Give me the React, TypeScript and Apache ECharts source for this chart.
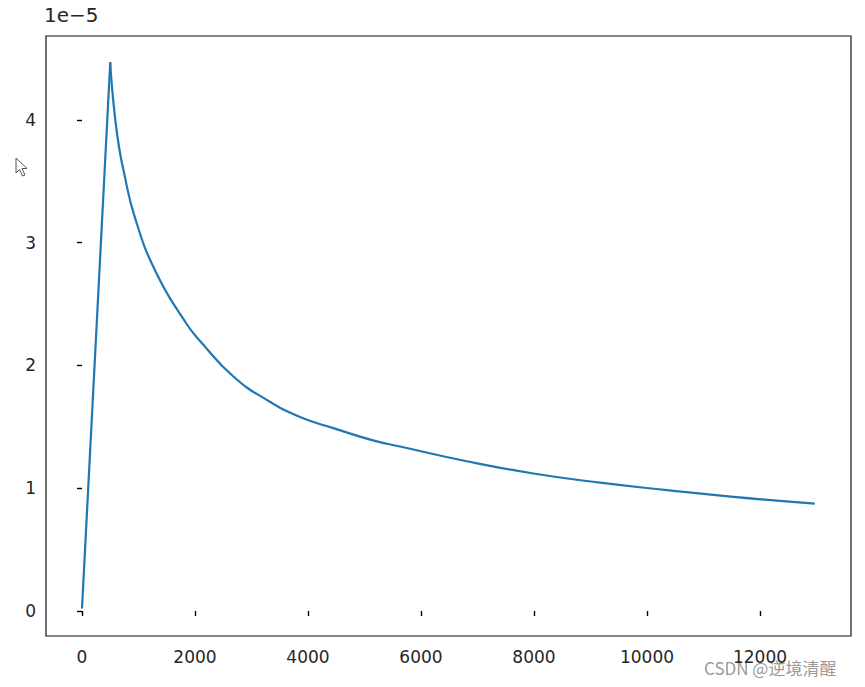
import React, { useEffect, useRef } from "react";
import * as echarts from "echarts";

// Training steps (x) and learning rate in units of 1e-5 (y)
const steps = [0, 500, 525, 585, 655, 730, 940, 1320, 1850, 2090, 2680, 3270, 3860, 4450, 5150, 5630, 6810, 7990, 9170, 10350, 11530, 12970];
const lrScaled = [0.02, 4.47, 4.3, 4.02, 3.78, 3.6, 3.2, 2.75, 2.34, 2.2, 1.91, 1.72, 1.58, 1.49, 1.39, 1.34, 1.22, 1.12, 1.045, 0.985, 0.93, 0.875];
const exponent = -5;
const xTicks = [0, 2000, 4000, 6000, 8000, 10000, 12000];
const yTicks = [0, 1, 2, 3, 4];

const SCALE = Math.pow(10, exponent);
const FONT = "DejaVu Sans";
const TEXT = "#262626";

export default function App() {
  const ref = useRef<HTMLDivElement>(null);
  useEffect(() => {
    if (!ref.current) return;
    const chart = echarts.init(ref.current, null, { renderer: "svg" });
    const points = steps.map((s, i) => [s, lrScaled[i] * SCALE]);
    const warm = points.slice(0, 2);
    const decay = points.slice(1);
    const lineStyle = { color: "#1f77b4", width: 2.2 };
    chart.setOption({
      animation: false,
      backgroundColor: "#ffffff",
      grid: {
        left: 46,
        right: 14,
        top: 36,
        bottom: 51,
        show: true,
        borderColor: "#111",
        borderWidth: 1.2,
        backgroundColor: "transparent",
      },
      xAxis: {
        type: "value",
        min: -637,
        max: 13611,
        splitLine: { show: false },
        axisLine: { show: false },
        axisTick: {
          show: true,
          inside: false,
          length: 5,
          customValues: xTicks,
          lineStyle: { color: "#000", width: 1.4 },
        },
        axisLabel: {
          customValues: xTicks,
          margin: 12,
          fontFamily: FONT,
          fontSize: 17,
          color: TEXT,
          formatter: (v: number) => String(v),
        },
      },
      yAxis: {
        type: "value",
        min: -0.2037 * SCALE,
        max: 4.684 * SCALE,
        splitLine: { show: false },
        axisLine: { show: false },
        axisTick: {
          show: true,
          inside: false,
          length: 5,
          customValues: yTicks.map((t) => t * SCALE),
          lineStyle: { color: "#000", width: 1.4 },
        },
        axisLabel: {
          customValues: yTicks.map((t) => t * SCALE),
          margin: 10,
          fontFamily: FONT,
          fontSize: 17,
          color: TEXT,
          formatter: (v: number) => String(Math.round(v / SCALE)),
        },
      },
      series: [
        {
          type: "line",
          data: warm,
          showSymbol: false,
          lineStyle,
        },
        {
          type: "line",
          data: decay,
          showSymbol: false,
          smooth: 0.5,
          lineStyle,
        },
      ],
      graphic: [
        {
          type: "text",
          left: 44,
          top: 5,
          style: {
            text: "1e\u22125",
            fontFamily: FONT,
            fontSize: 20,
            fill: TEXT,
          },
        },
        {
          type: "polygon",
          x: 16,
          y: 158,
          shape: {
            points: [
              [0, 0],
              [0, 15],
              [3.5, 11.5],
              [6.5, 18],
              [9, 17],
              [6, 10.5],
              [11, 10.5],
            ],
          },
          style: { fill: "#fff", stroke: "#555", lineWidth: 1 },
        },
        {
          type: "text",
          left: 703,
          top: 658,
          style: {
            text: "CSDN @逆境清醒",
            fontFamily: "Noto Sans CJK SC",
            fontSize: 17,
            fill: "rgba(140,140,140,0.9)",
            stroke: "rgba(255,255,255,0.8)",
            lineWidth: 2,
          },
        },
      ],
    });
    return () => chart.dispose();
  }, []);
  return (
    <div
      ref={ref}
      style={{ position: "fixed", left: 0, top: 0, width: 865, height: 687 }}
    />
  );
}
